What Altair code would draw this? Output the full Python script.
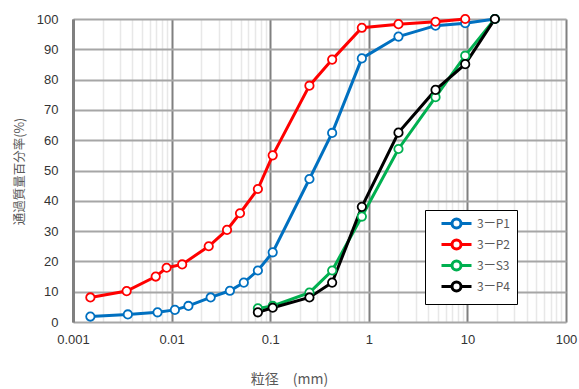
import altair as alt
import pandas as pd

# ---- data ----
p1_size = [0.0015, 0.0036, 0.0072, 0.0108, 0.0148, 0.0249, 0.039, 0.054, 0.075, 0.106, 0.25, 0.425, 0.85, 2, 4.75, 9.5, 19]
p1_pass = [1.8, 2.5, 3.2, 4.0, 5.3, 8.1, 10.3, 13.0, 17.0, 23.0, 47.2, 62.4, 87.0, 94.2, 97.8, 98.6, 100]

p2_size = [0.0015, 0.0035, 0.0069, 0.0089, 0.0128, 0.0238, 0.0365, 0.0494, 0.075, 0.106, 0.25, 0.425, 0.85, 2, 4.75, 9.5]
p2_pass = [8.1, 10.2, 15.0, 17.9, 19.0, 25.0, 30.4, 35.9, 43.9, 55.0, 78.0, 86.6, 97.1, 98.3, 99.1, 100]

s3_size = [0.075, 0.106, 0.25, 0.425, 0.85, 2, 4.75, 9.5, 19]
s3_pass = [4.5, 5.3, 9.7, 17.0, 34.8, 57.1, 74.2, 87.9, 100]

p4_size = [0.075, 0.106, 0.25, 0.425, 0.85, 2, 4.75, 9.5, 19]
p4_pass = [3.2, 4.7, 8.1, 13.0, 38.0, 62.5, 76.6, 85.1, 100]

series_names = ["3ーP1", "3ーP2", "3ーS3", "3ーP4"]
series_colors = ["#0070C0", "#FF0000", "#00B050", "#000000"]

decades = [0.001, 0.01, 0.1, 1, 10, 100]
grid_values = sorted(set(decades + [round(k * d, 6) for d in decades[:-1] for k in range(2, 10)]))

rows = []
for name, xs, ys in zip(series_names, [p1_size, p2_size, s3_size, p4_size], [p1_pass, p2_pass, s3_pass, p4_pass]):
    for i, (x, y) in enumerate(zip(xs, ys)):
        rows.append({"series": name, "size": x, "pass": y, "i": i})
df = pd.DataFrame(rows)

decade_test = "indexof([0.001, 0.01, 0.1, 1, 10, 100], datum.value) >= 0"

legend_path = "M-3,0H-0.9M0.9,0H3M-0.9,0A0.9,0.9,0,1,1,0.9,0A0.9,0.9,0,1,1,-0.9,0Z"

color = alt.Color(
    "series:N",
    scale=alt.Scale(domain=series_names, range=series_colors),
    legend=alt.Legend(
        title=None,
        orient="none",
        legendX=352,
        legendY=191,
        padding=7,
        rowPadding=0,
        symbolType=legend_path,
        symbolSize=100,
        symbolStrokeWidth=3,
        symbolFillColor="white",
        symbolOffset=18,
        labelOffset=14,
        labelFont="Noto Sans CJK JP",
        labelFontSize=12,
        labelColor="#595959",
        strokeColor="black",
        fillColor="white",
    ),
)

x = alt.X(
    "size:Q",
    scale=alt.Scale(type="log", domain=[0.001, 100], nice=False),
    axis=alt.Axis(
        values=grid_values,
        labelExpr=f"{decade_test} ? toString(datum.value) : ''",
        labelOverlap=False,
        labelFlush=False,
        labelFont="Liberation Sans",
        labelFontSize=13,
        labelColor="#333333",
        labelPadding=11,
        ticks=False,
        domain=False,
        grid=True,
        gridColor={"condition": {"test": decade_test, "value": "#808080"}, "value": "#e8e8e8"},
        gridWidth={"condition": {"test": decade_test, "value": 2}, "value": 1.5},
        title="粒径　(mm)",
        titleFont="Noto Sans CJK JP",
        titleFontSize=14,
        titleFontWeight="normal",
        titleColor="#595959",
        titleX=216,
        titleY=57,
        titleAlign="center",
        titleBaseline="middle",
    ),
)

y = alt.Y(
    "pass:Q",
    scale=alt.Scale(domain=[0, 100], nice=False),
    axis=alt.Axis(
        values=list(range(0, 101, 10)),
        labelFont="Liberation Sans",
        labelFontSize=13,
        labelColor="#333333",
        labelPadding=15,
        ticks=False,
        domain=True,
        domainColor="#808080",
        domainWidth=3,
        grid=True,
        gridColor="#a6a6a6",
        gridWidth=2,
        title="通過質量百分率(%)",
        titleFont="Noto Sans CJK JP",
        titleFontSize=12.5,
        titleFontWeight="normal",
        titleColor="#595959",
        titleX=-54,
        titleY=152,
        titleAlign="center",
        titleBaseline="middle",
    ),
)

lines = alt.Chart(df).mark_line(strokeWidth=3).encode(x=x, y=y, color=color, order="i:Q", detail="series:N")
points = alt.Chart(df).mark_point(shape="circle", filled=False, fill="white", fillOpacity=1, opacity=1, size=70, strokeWidth=1.8).encode(
    x=x, y=y, color=color
)

chart = (
    alt.layer(lines, points)
    .properties(
        width=493,
        height=303,
        autosize=alt.AutoSizeParams(type="none"),
        padding={"left": 73, "top": 19, "right": 13, "bottom": 67},
    )
    .configure_view(stroke="black", strokeWidth=2)
    .configure(background="white")
)

chart.save("out.html", embed_options={"renderer": "svg", "actions": False})
